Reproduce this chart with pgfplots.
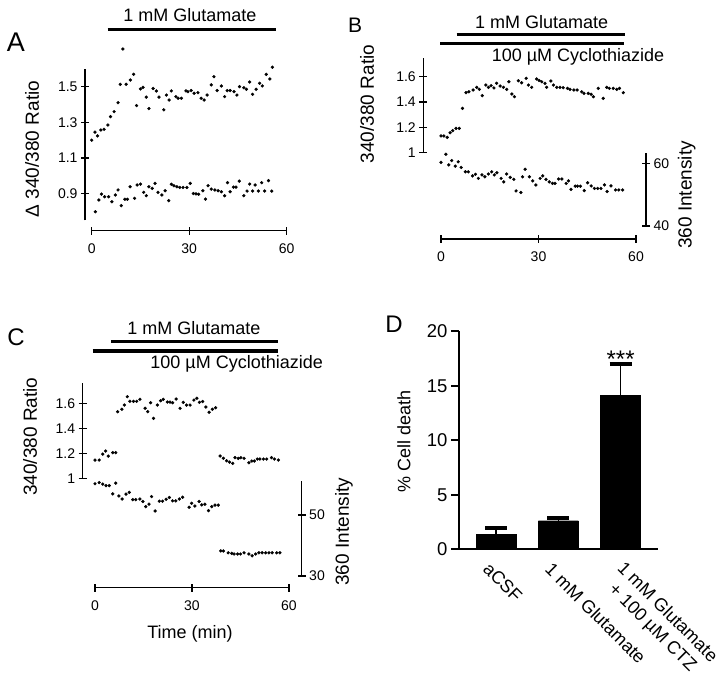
\documentclass[border=0pt]{standalone}
\usepackage{pgfplots}
\pgfplotsset{compat=1.18}
\usepackage{fontspec}
\setmainfont{Liberation Sans}
\newcommand{\fsT}{\fontsize{14}{16}\selectfont}
\newcommand{\fsL}{\fontsize{18}{21}\selectfont}
\newcommand{\fsY}{\fontsize{19}{22}\selectfont}
\newcommand{\fsD}{\fontsize{18.5}{22}\selectfont}

\pgfplotsset{
  trace/.style={scale only axis, clip=false,
    axis line style={line width=1.2pt, black},
    tick style={line width=1.2pt, black},
    tick align=center, major tick length=8pt,
    ticklabel style={font=\fsT},
    xticklabel style={yshift=-5pt},
    xmin=0, xmax=60},
  dots/.style={only marks, mark=*, mark size=1.45pt, black,
    mark options={fill=black, draw=black}}
}

\begin{document}
\begin{tikzpicture}
\path[use as bounding box] (0,0) rectangle (720pt,675pt);

% ---------------- Panel A ----------------
\begin{axis}[trace, at={(91.7pt,454.5pt)}, anchor=south west,
  width=195pt, height=151.7pt, ymin=0.75, ymax=1.6,
  axis x line*=bottom, axis y line*=left,
  axis x line shift=10.2pt, axis y line shift=6.7pt,
  xtick={0,30,60}, xticklabels={0,30,60},
  ytick={0.9,1.1,1.3,1.5}, yticklabels={0.9,1.1,1.3,1.5}]
\addplot[dots] coordinates {(0,1.20) (1.0,1.245) (1.8,1.224) (2.8,1.257) (3.8,1.261) (5.0,1.285) (5.8,1.332) (6.9,1.36) (8.1,1.41) (8.8,1.513) (9.6,1.711) (10.6,1.513) (11.9,1.537) (12.9,1.569) (13.8,1.394) (15.0,1.487) (15.8,1.496) (16.8,1.441) (17.6,1.377) (18.9,1.49) (19.9,1.476) (20.7,1.441) (22.2,1.37) (23.0,1.453) (23.8,1.425) (24.5,1.476) (25.9,1.444) (26.6,1.435) (27.6,1.435) (29.0,1.476) (29.6,1.472) (30.6,1.478) (31.5,1.463) (32.7,1.466) (33.7,1.435) (34.6,1.425) (35.5,1.453) (36.8,1.51) (37.6,1.556) (38.6,1.478) (39.9,1.504) (40.9,1.444) (41.7,1.478) (42.6,1.478) (43.8,1.472) (44.7,1.453) (45.5,1.5) (46.8,1.494) (47.6,1.485) (48.6,1.526) (49.5,1.457) (50.6,1.485) (51.7,1.519) (52.5,1.504) (53.7,1.569) (54.8,1.543) (55.6,1.609)};
\addplot[dots] coordinates {(1.1,0.799) (2.2,0.865) (3.0,0.898) (4.0,0.883) (5.2,0.883) (6.2,0.855) (7.3,0.893) (8.1,0.921) (9.1,0.833) (10.2,0.869) (11.0,0.869) (11.8,0.939) (13.2,0.874) (14.0,0.949) (15.0,0.954) (16.0,0.908) (16.8,0.889) (17.6,0.939) (18.6,0.930) (19.5,0.958) (20.4,0.908) (21.6,0.893) (22.6,0.917) (23.7,0.861) (24.5,0.953) (25.3,0.945) (26.2,0.939) (27.1,0.935) (28.1,0.935) (29.3,0.935) (30.3,0.958) (31.3,0.901) (32.1,0.899) (32.9,0.897) (34.2,0.917) (35.0,0.870) (35.8,0.945) (36.8,0.926) (37.9,0.921) (38.9,0.917) (39.9,0.911) (40.9,0.889) (41.8,0.962) (42.6,0.911) (43.6,0.937) (44.4,0.937) (45.4,0.971) (46.8,0.889) (47.8,0.915) (48.6,0.954) (49.5,0.915) (50.3,0.949) (51.3,0.915) (52.3,0.962) (53.2,0.915) (54.4,0.973) (55.4,0.915)};
\end{axis}

% ---------------- Panel B ----------------
\begin{axis}[trace, at={(441pt,522.3pt)}, anchor=south west,
  width=195pt, height=95pt, ymin=1.0, ymax=1.75,
  axis x line=none, axis y line*=left, axis y line shift=17.7pt,
  ytick={1,1.2,1.4,1.6}, yticklabels={1,1.2,1.4,1.6}]
\addplot[dots] coordinates {(0,1.132) (0.9,1.132) (1.9,1.121) (2.8,1.158) (3.6,1.174) (4.6,1.192) (5.6,1.192) (6.6,1.35) (7.7,1.474) (8.6,1.481) (9.9,1.495) (11.0,1.516) (11.8,1.5) (12.7,1.45) (13.8,1.534) (14.6,1.516) (15.4,1.529) (16.3,1.511) (17.1,1.548) (18.2,1.526) (19.2,1.516) (20.2,1.5) (20.9,1.56) (21.8,1.463) (22.6,1.442) (23.8,1.568) (24.8,1.552) (26.2,1.587) (26.9,1.534) (27.9,1.516) (29.4,1.582) (30.2,1.57) (31.0,1.56) (32.0,1.548) (32.5,1.516) (33.8,1.566) (34.6,1.534) (35.6,1.516) (36.6,1.516) (37.6,1.513) (38.9,1.508) (39.7,1.5) (40.9,1.495) (41.9,1.495) (43.3,1.481) (44.0,1.469) (45.3,1.469) (46.2,1.461) (46.9,1.442) (48.4,1.508) (49.9,1.429) (51.0,1.516) (51.8,1.508) (53.0,1.508) (54.1,1.5) (54.9,1.508) (56.1,1.474)};
\end{axis}
\begin{axis}[trace, at={(441pt,449pt)}, anchor=south west,
  width=195pt, height=73.3pt, ymin=40, ymax=63.4,
  axis x line*=bottom, axis y line*=right,
  axis x line shift=13pt, axis y line shift=10pt,
  xtick={0,30,60}, xticklabels={0,30,60},
  ytick={40,60}, yticklabels={40,60}]
\addplot[dots] coordinates {(0,60.3) (1.5,62.9) (2.4,59.5) (3.3,60.9) (4.4,59.1) (5.3,60.5) (6.2,58.7) (7.5,57.3) (8.4,57.3) (9.7,56.0) (10.6,56.5) (11.5,55.2) (12.6,56.3) (13.5,55.7) (14.6,56.6) (15.6,57.3) (16.4,56.3) (17.2,57.0) (18.5,55.2) (19.3,54.1) (20.2,56.6) (21.3,55.5) (22.4,54.9) (23.1,51.2) (24.6,50.7) (25.1,55.7) (25.9,58.1) (27.2,55.7) (28.2,54.4) (29.2,53.1) (30.5,55.2) (31.3,56.0) (32.3,54.9) (33.3,54.1) (34.3,53.6) (35.1,53.6) (36.2,55.0) (37.2,55.0) (38.5,53.6) (39.2,54.4) (40.0,51.7) (41.3,52.7) (42.0,52.7) (42.9,52.7) (44.1,51.3) (45.1,53.8) (46.2,52.8) (47.2,52.0) (48.2,52.0) (49.2,52.0) (50.3,53.1) (51.1,51.0) (52.3,52.8) (53.7,51.5) (54.7,51.5) (55.9,51.5)};
\end{axis}

% ---------------- Panel C ----------------
\begin{axis}[trace, at={(95pt,196.7pt)}, anchor=south west,
  width=194pt, height=95pt, ymin=1.0, ymax=1.76,
  axis x line=none, axis y line*=left, axis y line shift=12.3pt,
  ytick={1,1.2,1.4,1.6}, yticklabels={1,1.2,1.4,1.6}]
\addplot[dots] coordinates {(0,1.146) (1.3,1.146) (2.4,1.194) (3.3,1.218) (4.1,1.178) (5.5,1.205) (6.4,1.205) (7.0,1.533) (8.3,1.552) (9.1,1.586) (10.0,1.653) (10.8,1.616) (11.9,1.616) (12.9,1.616) (13.9,1.632) (15.5,1.56) (16.3,1.533) (17.2,1.605) (18.1,1.48) (19.3,1.586) (20.3,1.621) (21.1,1.632) (22.4,1.61) (23.2,1.61) (24.0,1.605) (25.1,1.634) (26.3,1.56) (27.3,1.608) (28.3,1.586) (29.4,1.586) (30.6,1.626) (31.5,1.64) (32.3,1.608) (33.3,1.614) (34.3,1.57) (35.3,1.528) (36.3,1.552) (37.3,1.565) (38.7,1.178) (39.7,1.16) (40.7,1.14) (41.6,1.13) (42.6,1.12) (43.3,1.165) (44.3,1.16) (45.1,1.165) (46.1,1.16) (47.6,1.125) (48.5,1.138) (49.3,1.138) (50.2,1.154) (51.0,1.154) (52.1,1.154) (53.1,1.154) (54.6,1.165) (55.5,1.154) (56.7,1.146)};
\end{axis}
\begin{axis}[trace, at={(95pt,99pt)}, anchor=south west,
  width=194pt, height=95.3pt, ymin=30, ymax=61.2,
  axis x line*=bottom, axis y line*=right,
  axis x line shift=11.7pt, axis y line shift=12.7pt,
  xtick={0,30,60}, xticklabels={0,30,60},
  ytick={30,50}, yticklabels={30,50}]
\addplot[dots] coordinates {(0,60.2) (1.3,60.6) (2.4,60.1) (3.4,59.6) (4.4,59.6) (6.4,60.4) (5.5,56.9) (7.4,56.2) (8.4,55.2) (9.6,56.8) (10.6,57.4) (11.7,55.0) (12.6,55.0) (13.9,55.2) (14.8,54.4) (15.7,52.7) (16.7,53.5) (17.5,56.0) (18.6,51.3) (19.9,54.5) (20.9,54.5) (22.0,55.1) (23.0,55.7) (24.0,54.6) (25.0,54.6) (26.1,55.2) (27.1,55.8) (29.1,52.5) (29.9,53.8) (30.9,52.9) (32.2,54.4) (33.0,53.3) (34.0,53.5) (35.1,51.4) (36.1,52.7) (37.1,53.2) (38.1,53.2) (38.9,38.2) (39.7,38.2) (41.2,37.6) (42.3,37.4) (43.0,37.2) (44.1,37.2) (45.0,37.2) (46.1,37.6) (47.6,37.2) (48.6,36.6) (49.7,37.2) (50.7,37.6) (51.7,37.6) (52.8,37.6) (53.8,37.6) (54.8,37.6) (56.2,37.6) (57.2,37.6)};
\end{axis}

% ---------------- Panel D ----------------
\begin{axis}[scale only axis, clip=false, at={(459pt,125.7pt)}, anchor=south west,
  width=199.3pt, height=218pt,
  xmin=-0.594, xmax=2.605, ymin=0, ymax=20,
  axis x line*=bottom, axis y line*=left,
  axis line style={line width=2pt, black},
  ytick={0,5,10,15,20}, yticklabels={0,5,10,15,20},
  tick align=outside, major tick length=8pt,
  y tick style={line width=2pt, black},
  x tick style={draw=none},
  xtick={0,1,2},
  xticklabels={aCSF, 1 mM Glutamate, {\hspace*{6pt}\raisebox{10pt}[\height][\depth]{\begin{tabular}{@{}c@{}}1 mM Glutamate\\+ 100 µM CTZ\end{tabular}}}},
  xticklabel style={rotate=-45, anchor=north west, font=\fsL, xshift=-4pt, yshift=-3pt},
  yticklabel style={font=\fsD},
  ybar, bar width=40pt]
\addplot[fill=black, draw=black,
  error bars/.cd, y dir=plus, y explicit,
  error mark=|,
  error bar style={line width=1.5pt, black},
  error mark options={line width=4pt, mark size=11pt, black}]
  coordinates {(0,1.4) +- (0,0.58) (1,2.62) +- (0,0.22) (2,14.15) +- (0,2.83)};
\node[font=\fontsize{24}{26}\selectfont] at (axis cs:2,17.4) {***};
\end{axis}

% ---------------- annotations ----------------
\draw[line width=3.5pt] (107.7pt,645.7pt) -- (276pt,645.7pt);
\node[font=\fsL] at (190pt,660pt) {1 mM Glutamate};

\draw[line width=3.5pt] (456.7pt,640.7pt) -- (625pt,640.7pt);
\draw[line width=3.5pt] (440pt,631.7pt) -- (624pt,631.7pt);
\node[font=\fsL] at (541.7pt,653.3pt) {1 mM Glutamate};
\node[font=\fsL] at (578pt,617.7pt) {100 µM Cyclothiazide};

\draw[line width=3.5pt] (111pt,333.3pt) -- (278pt,333.3pt);
\draw[line width=3.5pt] (92.7pt,324pt) -- (278pt,324pt);
\node[font=\fsL] at (194pt,347pt) {1 mM Glutamate};
\node[font=\fsL] at (236.7pt,311pt) {100 µM Cyclothiazide};

\node[font=\fsY, rotate=90] at (32pt,526pt) {Δ 340/380 Ratio};
\node[font=\fsY, rotate=90] at (367pt,571pt) {340/380 Ratio};
\node[font=\fsY, rotate=90] at (686.7pt,480pt) {360 Intensity};
\node[font=\fsY, rotate=90] at (30pt,238.3pt) {340/380 Ratio};
\node[font=\fsY, rotate=90] at (344pt,143.3pt) {360 Intensity};
\node[font=\fsL] at (190pt,41pt) {Time (min)};
\node[font=\fsL, rotate=90] at (404pt,234pt) {\% Cell death};

\node[font=\fontsize{27}{30}\selectfont] at (16pt,633pt) {A};
\node[font=\fontsize{21}{24}\selectfont] at (355pt,650pt) {B};
\node[font=\fontsize{24}{27}\selectfont] at (16pt,338pt) {C};
\node[font=\fontsize{24}{27}\selectfont] at (394pt,351pt) {D};
\end{tikzpicture}
\end{document}
